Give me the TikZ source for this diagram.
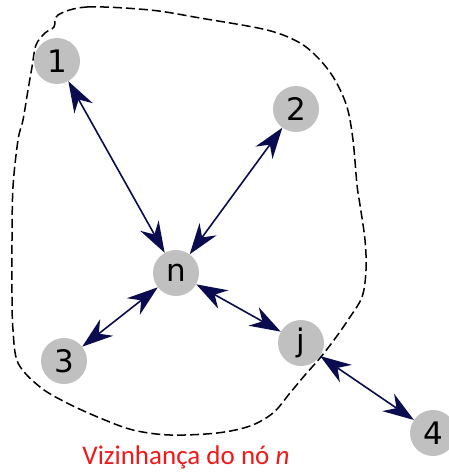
\documentclass[tikz,border=0pt]{standalone}
\usepackage{fontspec}
\setmainfont{DejaVu Sans}
\newfontfamily\labelfont{Carlito}
\usetikzlibrary{arrows.meta}
\definecolor{navy}{HTML}{0B0B50}
\definecolor{nodegray}{HTML}{C0C0C0}
\definecolor{labelred}{HTML}{F01818}
\tikzset{
  vert/.style={circle, fill=nodegray, minimum size=46pt, inner sep=0pt, font=\fontsize{31}{31}\selectfont},
  link/.style={draw=navy, line width=1.6pt, {Stealth[length=31pt,width=21pt,inset=10pt]}-{Stealth[length=31pt,width=21pt,inset=10pt]}},
  region/.style={draw=black, line width=1.5pt, dash pattern=on 9pt off 4pt}
}
\begin{document}
\begin{tikzpicture}[x=1pt,y=-1pt]
\useasboundingbox (0,0) rectangle (448,473);
\draw[region] plot[smooth cycle, tension=0.55] coordinates {
(58,15) (87,7) (150,10) (200,18) (267,30) (300,43) (320,60) (335,80) (347,107) (353,140) (357,185) (360,205) (365,240) (366,270) (362,297) (348,320) (334,340) (320,358) (305,375) (290,393) (273,413) (250,426) (217,433) (170,435) (133,430) (100,418) (67,403) (40,387) (18,363) (13,330) (12,297) (12,240) (13,187) (18,140) (23,120) (28,90) (32,67) (36,45) (45,33) (54,27)};
\node[vert] (v1) at (57,61) {1};
\node[vert] (v2) at (296,109) {2};
\node[vert] (vn) at (176,273) {n};
\node[vert] (v3) at (64,361) {3};
\node[vert] (vj) at (301,343) {j};
\node[vert] (v4) at (433,433) {4};
\draw[link] (v1) -- (vn);
\draw[link] (v2) -- (vn);
\draw[link] (v3) -- (vn);
\draw[link] (vn) -- (vj);
\draw[link] (vj) -- (v4);
\node[text=labelred, font=\labelfont\fontsize{27}{27}\selectfont] (lab) at (186,457) {Vizinhança do nó \textit{n}};
\end{tikzpicture}
\end{document}
